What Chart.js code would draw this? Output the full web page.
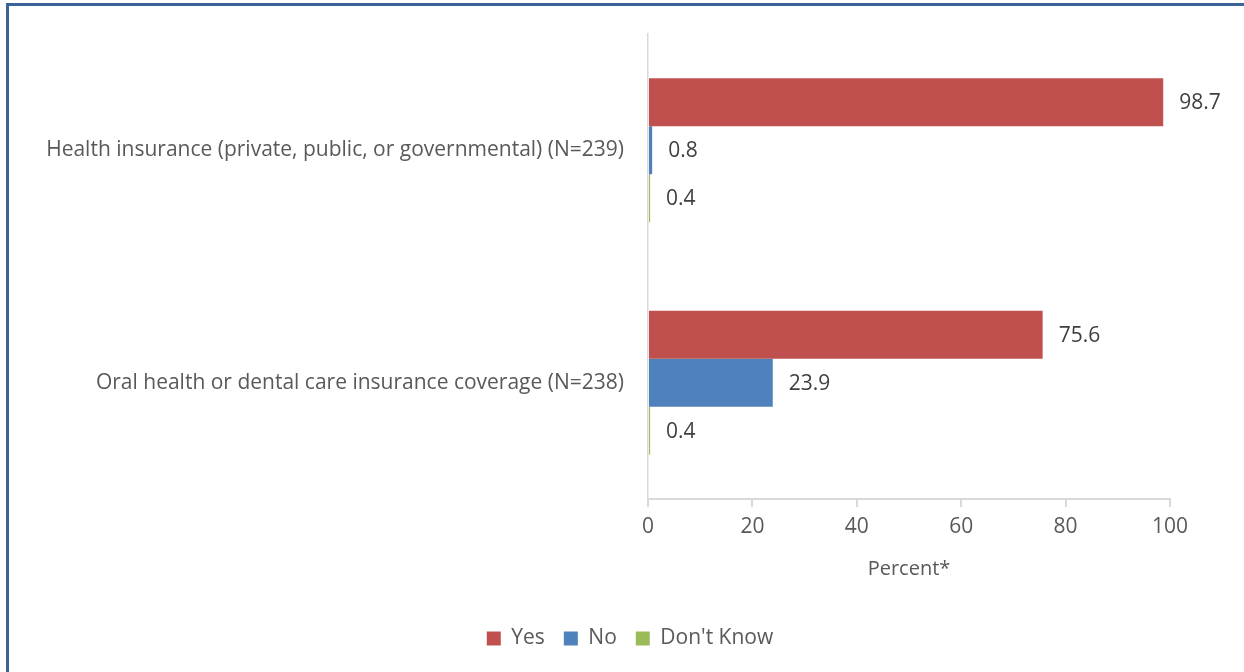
<!DOCTYPE html>
<html lang="en">

<head>
    <meta charset="UTF-8">
    <title>Health Insurance Coverage</title>
    <script src="https://cdn.jsdelivr.net/npm/chart.js"></script>
    <style>
        body { margin: 0; background: #fff; }
        #wrap { position: relative; width: 1244px; height: 672px; }
        /* blue frame, only left and top edges are visible */
        #frame {
            position: absolute; left: 6px; top: 3px; right: -10px; bottom: -10px;
            border-left: 3px solid #3a6497; border-top: 3px solid #3a6497;
            pointer-events: none;
        }
    </style>
</head>

<body>
    <div id="wrap">
        <canvas id="barChart" width="1244" height="672"></canvas>
        <div id="frame"></div>
    </div>

    <script>
        // data
        const categories = [
            'Health insurance (private, public, or governmental) (N=239)',
            'Oral health or dental care insurance coverage (N=238)'
        ];
        const yesValues = [98.7, 75.6];
        const noValues = [0.8, 23.9];
        const dontKnowValues = [0.4, 0.4];
        const xTicks = [0, 20, 40, 60, 80, 100];

        const font = 'Open Sans';

        // draws the value to the right of each bar
        const valueLabels = {
            id: 'valueLabels',
            afterDatasetsDraw(chart) {
                const ctx = chart.ctx;
                ctx.save();
                ctx.font = '21px "' + font + '"';
                ctx.fillStyle = '#404040';
                ctx.textBaseline = 'middle';
                ctx.textAlign = 'left';
                chart.data.datasets.forEach((ds, i) => {
                    chart.getDatasetMeta(i).data.forEach((bar, j) => {
                        ctx.fillText(ds.data[j].toFixed(1), bar.x + 16, bar.y + 1);
                    });
                });
                ctx.restore();
            }
        };

        const ctx = document.getElementById('barChart').getContext('2d');
        new Chart(ctx, {
            type: 'bar',
            data: {
                labels: categories,
                datasets: [
                    { label: 'Yes', data: yesValues, backgroundColor: '#c0504d' },
                    { label: 'No', data: noValues, backgroundColor: '#4f81bd' },
                    { label: "Don't Know", data: dontKnowValues, backgroundColor: '#9bbb59' }
                ]
            },
            options: {
                indexAxis: 'y',
                responsive: false,
                animation: false,
                categoryPercentage: 0.62,
                barPercentage: 1.0,
                layout: { padding: { top: 34, right: 0, left: 16, bottom: 13 } },
                plugins: {
                    tooltip: { enabled: false },
                    legend: {
                        position: 'bottom',
                        labels: {
                            font: { family: font, size: 21 },
                            color: '#595959',
                            boxWidth: 14,
                            boxHeight: 14,
                            padding: 19
                        }
                    }
                },
                scales: {
                    x: {
                        min: 0,
                        max: 100,
                        afterBuildTicks: (s) => { s.ticks = xTicks.map(v => ({ value: v })); },
                        afterFit: (s) => { s.height = 110; },
                        ticks: {
                            font: { family: font, size: 21 },
                            color: '#595959',
                            padding: 7
                        },
                        grid: {
                            drawOnChartArea: false,
                            drawTicks: true,
                            tickLength: 8,
                            color: '#d9d9d9',
                            lineWidth: 2
                        },
                        border: { display: true, color: '#d9d9d9', width: 2 },
                        title: {
                            display: true,
                            text: 'Percent*',
                            font: { family: font, size: 20 },
                            color: '#595959',
                            padding: { top: 4, bottom: 28 }
                        }
                    },
                    y: {
                        afterFit: (s) => { s.width = 632; },
                        ticks: {
                            font: { family: font, size: 21 },
                            color: '#595959',
                            padding: 16
                        },
                        grid: { display: false },
                        border: { display: true, color: '#d9d9d9', width: 1.5 }
                    },
                    // empty space on the right of the plot
                    yRight: {
                        type: 'linear',
                        axis: 'y',
                        position: 'right',
                        afterFit: (s) => { s.width = 74; },
                        ticks: { display: false },
                        grid: { display: false },
                        border: { display: false }
                    }
                }
            },
            plugins: [valueLabels]
        });
    </script>
</body>

</html>
